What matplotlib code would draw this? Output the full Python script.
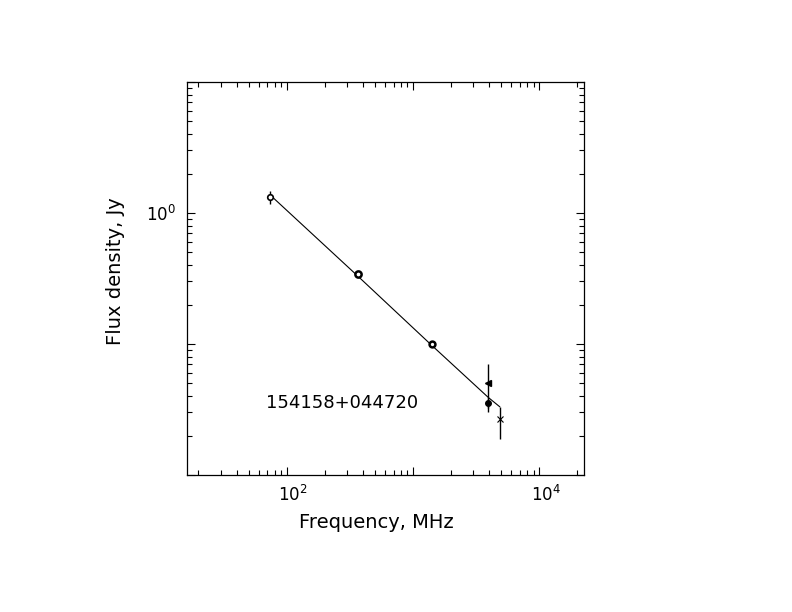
import matplotlib
matplotlib.use("Agg")
import matplotlib.pyplot as plt
import matplotlib.transforms as mtransforms
from matplotlib.ticker import LogLocator, FixedLocator, FixedFormatter

# 測定点 (MHz, Jy)
freq_open = [74.0]
flux_open = [1.32]
err_open = [0.15]

freq_ring = [365.0]
flux_ring = [0.342]
err_ring = [0.02]

freq_dot = [1400.0]
flux_dot = [0.100]
err_dot = [0.004]

freq_fill = [3950.0]
flux_fill = [0.0356]
err_fill = [0.003]

freq_tri = [3950.0]
flux_tri = [0.0504]
err_tri = [0.020]

freq_cross = [4850.0]
flux_cross = [0.0269]
err_lo_cross = [0.0080]
err_hi_cross = [0.0063]

# フィット曲線
fit_freq = [74.0, 365.0, 1400.0, 3950.0, 4850.0]
fit_flux = [1.37, 0.330, 0.098, 0.039, 0.0332]

source_name = "154158+044720"

fig = plt.figure(figsize=(7.92, 6.12), dpi=100)
ax = fig.add_axes([0.2361, 0.2239, 0.5017, 0.6421])
ax.set_xscale("log")
ax.set_yscale("log")
ax.set_xlim(10 ** 1.21, 10 ** 4.356)
ax.set_ylim(1e-2, 1e1)

lw = 0.8
ax.plot(fit_freq, fit_flux, color="black", lw=lw)

ax.errorbar(freq_open, flux_open, yerr=err_open, fmt="o", ms=4, mfc="white",
            mec="black", mew=1.2, ecolor="black", elinewidth=1.0, capsize=0)
ax.errorbar(freq_ring, flux_ring, yerr=err_ring, fmt="o", ms=4.5, mfc="white",
            mec="black", mew=1.8, ecolor="black", elinewidth=1.0, capsize=0)
ax.errorbar(freq_dot, flux_dot, yerr=err_dot, fmt="o", ms=4.2, mfc="white",
            mec="black", mew=1.8, ecolor="black", elinewidth=1.0, capsize=0)
ax.plot(freq_dot, flux_dot, "o", ms=1.0, color="black")
ax.errorbar(freq_tri, flux_tri, yerr=err_tri, fmt="<", ms=5, color="black",
            elinewidth=1.0, capsize=0)
ax.errorbar(freq_fill, flux_fill, yerr=err_fill, fmt="o", ms=4, color="black",
            elinewidth=1.0, capsize=0)
ax.errorbar(freq_cross, flux_cross, yerr=[err_lo_cross, err_hi_cross], fmt="x",
            ms=5, mew=0.8, color="black", elinewidth=1.0, capsize=0)

ax.text(68, 0.0352, source_name, fontsize=13, ha="left", va="center")

# 目盛り
ax.xaxis.set_major_locator(FixedLocator([1e2, 1e3, 1e4]))
ax.xaxis.set_major_formatter(FixedFormatter([r"$\mathregular{10^{2}}$", "",
                                             r"$\mathregular{10^{4}}$"]))
ax.xaxis.set_minor_locator(LogLocator(base=10, subs=range(2, 10), numticks=20))
ax.xaxis.set_minor_formatter(FixedFormatter([]))
ax.yaxis.set_major_locator(FixedLocator([1e-2, 1e-1, 1e0, 1e1]))
ax.yaxis.set_major_formatter(FixedFormatter(["", "", r"$\mathregular{10^{0}}$", ""]))
ax.yaxis.set_minor_locator(LogLocator(base=10, subs=range(2, 10), numticks=20))
ax.yaxis.set_minor_formatter(FixedFormatter([]))

ax.tick_params(which="both", direction="in", top=True, right=True,
               labelsize=12, width=0.8, color="black")
ax.tick_params(which="major", length=6)
ax.tick_params(which="minor", length=3.3)
ax.tick_params(axis="x", pad=7)
ax.tick_params(axis="y", pad=8)
for s in ax.spines.values():
    s.set_linewidth(0.9)

# PGPLOT風に「10」を目盛りの中心へ
off = mtransforms.ScaledTranslation(4.5 / 72, 0, fig.dpi_scale_trans)
for lab in ax.get_xticklabels():
    lab.set_transform(lab.get_transform() + off)

ax.set_xlabel("Frequency, MHz", fontsize=14)
ax.set_ylabel("Flux density, Jy", fontsize=14)
ax.xaxis.set_label_coords(0.476, -0.122)
ax.yaxis.set_label_coords(-0.181, 0.519)
ax.xaxis.label.set_va("center")
ax.yaxis.label.set_va("center")

fig.savefig("out.png", dpi=100)
